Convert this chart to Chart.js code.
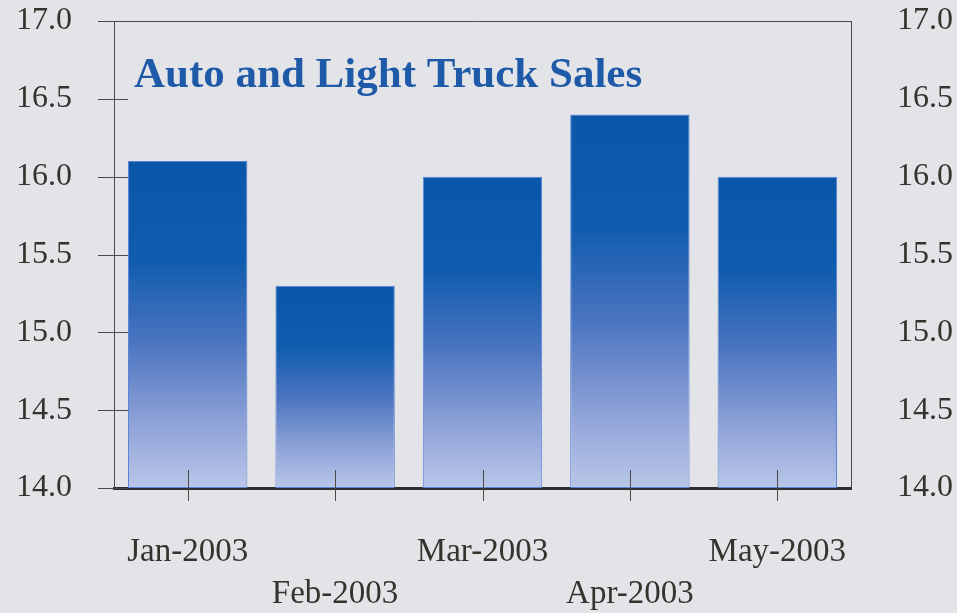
<!DOCTYPE html>
<html>
<head>
<meta charset="utf-8">
<script src="https://cdn.jsdelivr.net/npm/chart.js@4/dist/chart.umd.min.js"></script>
<style>
  html, body { margin: 0; padding: 0; background: #e3e4e8; }
  #wrap { width: 957px; height: 613px; }
</style>
</head>
<body>
<div id="wrap"><canvas id="c" width="957" height="613"></canvas></div>
<script>
const categories = ['Jan-2003', 'Feb-2003', 'Mar-2003', 'Apr-2003', 'May-2003'];
const sales = [16.1, 15.3, 16.0, 16.4, 16.0];
const yMin = 14.0, yMax = 17.0, yStep = 0.5;
const titleText = 'Auto and Light Truck Sales';

const FONT = '"Liberation Serif", "Times New Roman", serif';
const TEXT = '#34342f';
const LINE = '#4a4a48';

function barGradient(context) {
  const chart = context.chart;
  const y = chart.scales && chart.scales.y;
  if (!y || !context.parsed || !chart.chartArea) return '#2c66b5';
  const top = y.getPixelForValue(context.parsed.y);
  const base = y.getPixelForValue(yMin);
  if (!isFinite(top) || !isFinite(base) || base - top < 1) return '#2c66b5';
  const g = chart.ctx.createLinearGradient(0, top, 0, base);
  g.addColorStop(0, '#0a57a9');
  g.addColorStop(0.3, '#105cae');
  g.addColorStop(0.55, '#4a74c0');
  g.addColorStop(0.8, '#8ea2d7');
  g.addColorStop(1, '#bac6e9');
  return g;
}

function noPad(s) {
  s.paddingTop = 0; s.paddingBottom = 0; s.paddingLeft = 0; s.paddingRight = 0;
}

const decorPlugin = {
  id: 'decor',
  afterDatasetsDraw(chart) {
    const { ctx, chartArea: a, scales } = chart;
    ctx.save();
    ctx.strokeStyle = LINE;
    ctx.lineWidth = 1;
    // top border
    ctx.beginPath();
    ctx.moveTo(a.left - 16, a.top + 0.5);
    ctx.lineTo(a.right, a.top + 0.5);
    ctx.stroke();
    // y ticks crossing the left axis
    scales.y.ticks.forEach(t => {
      const py = Math.round(scales.y.getPixelForValue(t.value)) + 0.5;
      ctx.beginPath();
      ctx.moveTo(a.left - 16, py);
      ctx.lineTo(a.left + 14, py);
      ctx.stroke();
    });
    // x ticks crossing the baseline
    categories.forEach((c, i) => {
      const px = Math.round(scales.x.getPixelForValue(i)) + 0.5;
      ctx.beginPath();
      ctx.moveTo(px, a.bottom - 18);
      ctx.lineTo(px, a.bottom + 13);
      ctx.stroke();
    });
    // title
    ctx.fillStyle = '#1f5aa8';
    ctx.font = 'bold 43px ' + FONT;
    ctx.textBaseline = 'alphabetic';
    ctx.textAlign = 'left';
    ctx.fillText(titleText, a.left + 20, 87);
    ctx.restore();
  }
};

new Chart(document.getElementById('c'), {
  type: 'bar',
  data: {
    labels: categories,
    datasets: [{
      data: sales,
      backgroundColor: barGradient,
      borderColor: '#5a84d6',
      borderWidth: 1,
      borderSkipped: false,
      categoryPercentage: 1.0,
      barPercentage: 0.81,
      base: yMin
    }]
  },
  options: {
    responsive: false,
    animation: false,
    events: [],
    layout: { padding: { top: 21, left: 0, right: 0, bottom: 0 } },
    plugins: { legend: { display: false }, tooltip: { enabled: false }, title: { display: false } },
    scales: {
      x: {
        grid: { display: true, drawOnChartArea: false, drawTicks: false },
        border: { display: true, color: '#2e2e2c', width: 3 },
        afterFit(s) { s.height = 125; noPad(s); },
        ticks: {
          autoSkip: false,
          maxRotation: 0,
          minRotation: 0,
          padding: 44,
          color: TEXT,
          font: { family: FONT, size: 33, lineHeight: 1.25 },
          callback(v, i) { const l = categories[i]; return i % 2 ? ['', l] : l; }
        }
      },
      y: {
        position: 'left',
        min: yMin, max: yMax,
        grid: { display: false, drawTicks: false },
        border: { display: true, color: LINE, width: 1 },
        afterFit(s) { s.width = 114; noPad(s); },
        ticks: {
          stepSize: yStep,
          padding: 42,
          color: TEXT,
          font: { family: FONT, size: 32 },
          callback(v) { return Number(v).toFixed(1); }
        }
      },
      y2: {
        position: 'right',
        min: yMin, max: yMax,
        grid: { display: false, drawTicks: false },
        border: { display: true, color: LINE, width: 1 },
        afterFit(s) { s.width = 106; noPad(s); },
        ticks: {
          stepSize: yStep,
          padding: 46,
          color: TEXT,
          font: { family: FONT, size: 32 },
          callback(v) { return Number(v).toFixed(1); }
        }
      }
    }
  },
  plugins: [decorPlugin]
});
</script>
</body>
</html>
